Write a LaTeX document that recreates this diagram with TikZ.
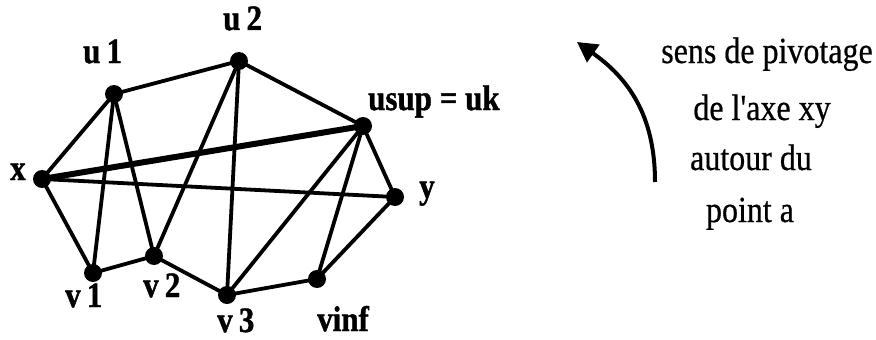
\documentclass[tikz,border=0pt]{standalone}
\usepackage{fontspec}
\setmainfont{Liberation Serif}
\newfontfamily\labelfont[FakeBold=1.2]{Liberation Serif Bold}
\newfontfamily\notefont[FakeBold=0.6]{Liberation Serif}
\usetikzlibrary{arrows.meta}
\tikzset{
  vertex/.style={circle,fill=black,inner sep=0pt,minimum size=18pt},
  edge/.style={line width=3.8pt},
  heavyedge/.style={line width=6pt},
  vlabel/.style={anchor=base west,inner sep=0pt,font=\fontsize{31}{31}\labelfont},
  note/.style={anchor=base,inner sep=0pt,font=\fontsize{32}{32}\notefont},
}
\newcommand{\tallbox}[1]{\scalebox{1}[1.15]{#1}}
\begin{document}
\begin{tikzpicture}[x=1pt,y=-1pt]
\useasboundingbox (0,0) rectangle (876,340);
% vertices
\node[vertex] (x) at (42,179) {};
\node[vertex] (u1) at (114,94) {};
\node[vertex] (u2) at (239,61) {};
\node[vertex] (usup) at (363,126) {};
\node[vertex] (y) at (395,197) {};
\node[vertex] (vinf) at (317,279) {};
\node[vertex] (v3) at (227,295) {};
\node[vertex] (v2) at (154,256) {};
\node[vertex] (v1) at (93,273) {};
% edges
\draw[heavyedge] (x.center) -- (usup.center);
\draw[edge] (x.center) -- (u1.center);
\draw[edge] (x.center) -- (v1.center);
\draw[edge] (x.center) -- (y.center);
\draw[edge] (u1.center) -- (u2.center);
\draw[edge] (u1.center) -- (v1.center);
\draw[edge] (u1.center) -- (v2.center);
\draw[edge] (u2.center) -- (usup.center);
\draw[edge] (u2.center) -- (v2.center);
\draw[edge] (u2.center) -- (v3.center);
\draw[edge] (usup.center) -- (y.center);
\draw[edge] (usup.center) -- (v3.center);
\draw[edge] (usup.center) -- (vinf.center);
\draw[edge] (y.center) -- (vinf.center);
\draw[edge] (vinf.center) -- (v3.center);
\draw[edge] (v3.center) -- (v2.center);
\draw[edge] (v2.center) -- (v1.center);
% vertex labels
\node[vlabel] (lx) at (10,180) {\tallbox{x}};
\node[vlabel] (lu1) at (83,63) {\tallbox{u\kern0.2em 1}};
\node[vlabel] (lu2) at (223,30) {\tallbox{u\kern0.2em 2}};
\node[vlabel] (lusup) at (368,110) {\tallbox{usup = uk}};
\node[vlabel] (ly) at (419,198) {\tallbox{y}};
\node[vlabel] (lv1) at (65,307) {\tallbox{v\kern0.2em 1}};
\node[vlabel] (lv2) at (143,297) {\tallbox{v\kern0.2em 2}};
\node[vlabel] (lv3) at (217,332) {\tallbox{v\kern0.2em 3}};
\node[vlabel] (lvinf) at (317,331) {\tallbox{vinf}};
% rotation arrow
\coordinate (a0) at (655,182);
\coordinate (a1) at (577,42);
\draw[line width=4pt,-{Triangle[length=20pt,width=21pt]}] (a0) .. controls (655,115) and (628,78) .. (a1);
% caption
\node[note] (t1) at (767,63) {\tallbox{sens de pivotage}};
\node[note] (t2) at (762,120) {\tallbox{de l'axe xy}};
\node[note] (t3) at (751,170) {\tallbox{autour du}};
\node[note] (t4) at (750,222) {\tallbox{point a}};
\end{tikzpicture}
\end{document}
